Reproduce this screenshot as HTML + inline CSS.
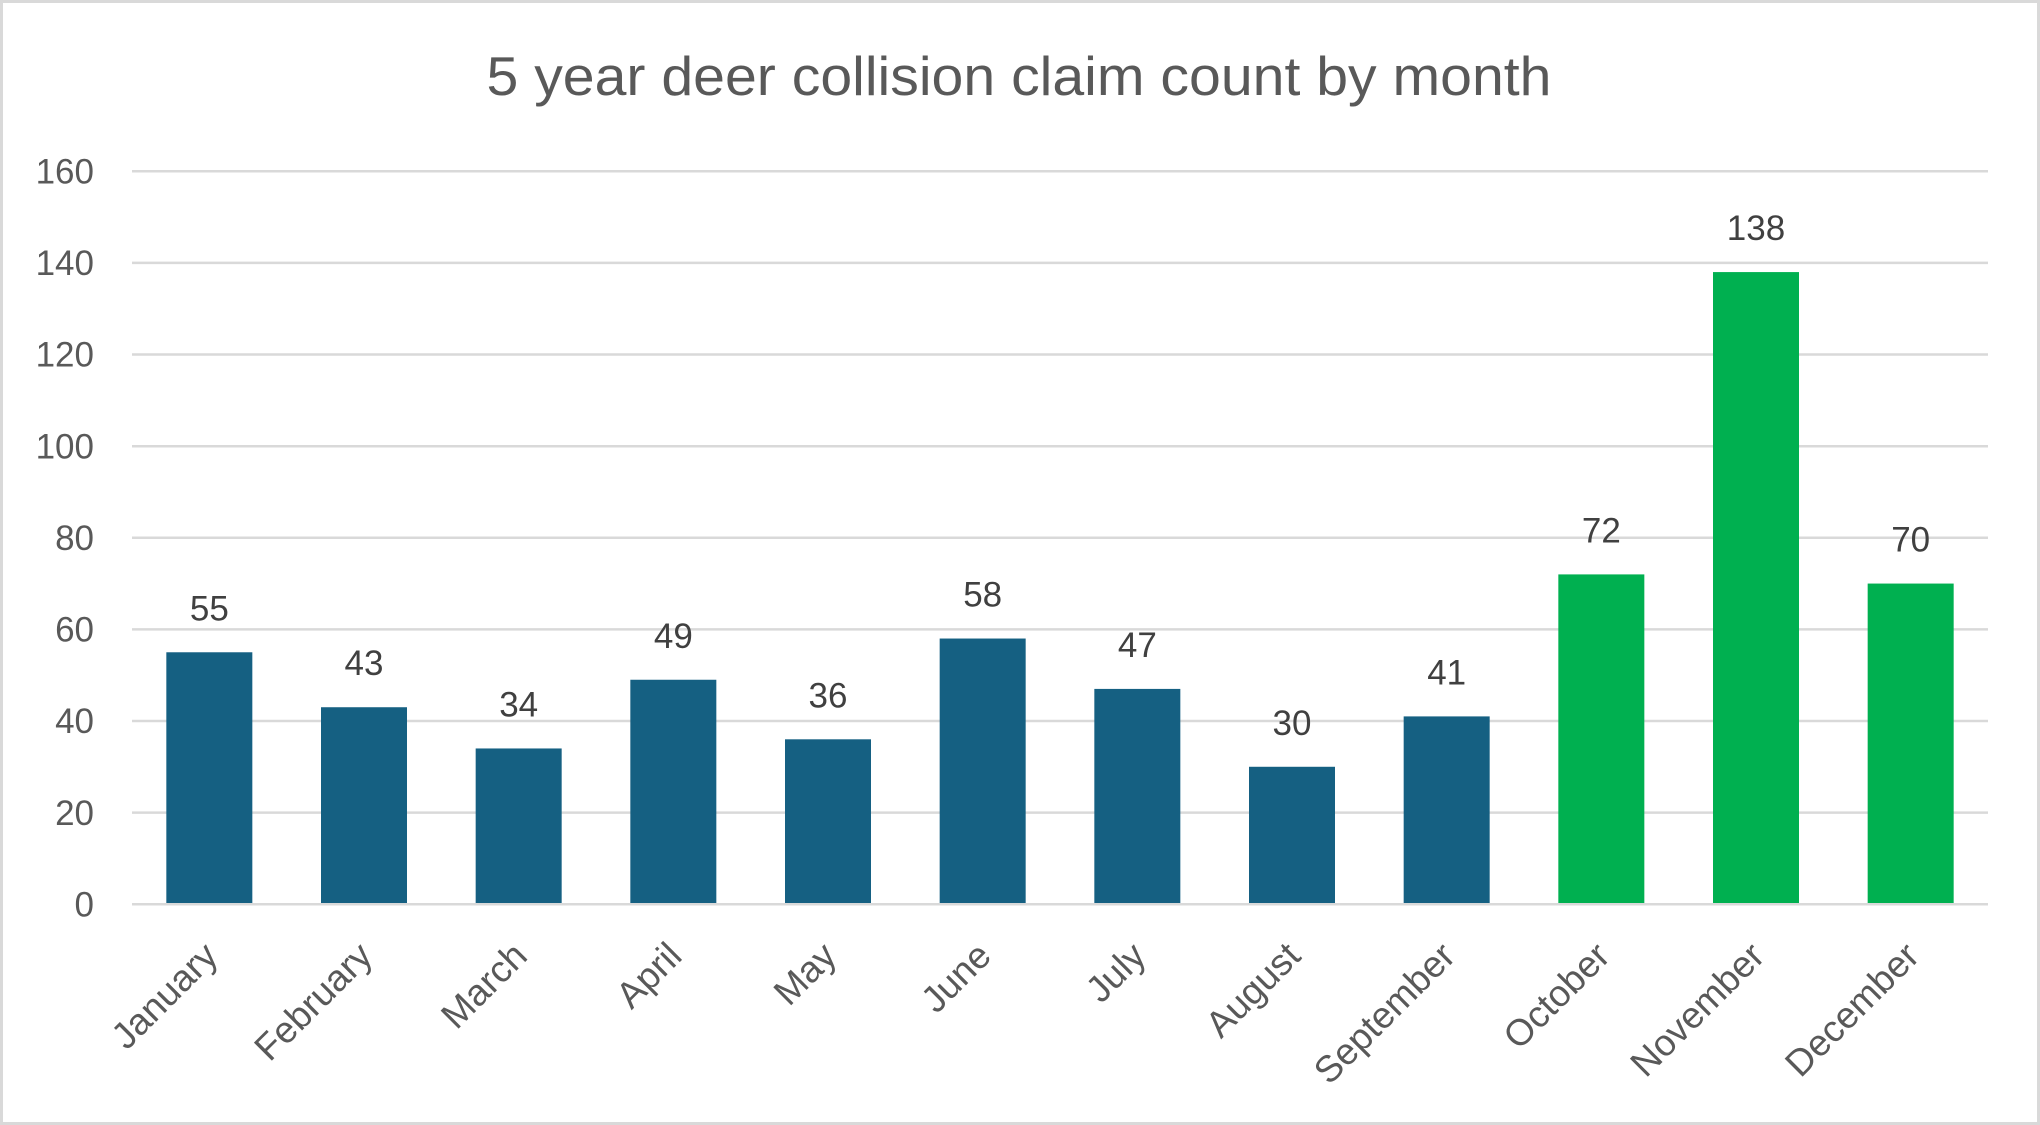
<!DOCTYPE html>
<html>
<head>
<meta charset="utf-8">
<style>
  html, body { margin: 0; padding: 0; background: #ffffff; }
  svg { display: block; }
</style>
</head>
<body>
<svg width="2040" height="1125" viewBox="0 0 2040 1125" xmlns="http://www.w3.org/2000/svg">
  <rect x="0" y="0" width="2040" height="1125" fill="#ffffff"/>
  <rect x="1.5" y="1.5" width="2037" height="1122" fill="none" stroke="#d9d9d9" stroke-width="3"/>

  <!-- Title -->
  <text x="1019" y="95" text-anchor="middle" font-family="Liberation Sans, sans-serif" font-size="55" fill="#595959" textLength="1065" lengthAdjust="spacingAndGlyphs">5 year deer collision claim count by month</text>

  <!-- Gridlines -->
  <g stroke="#d9d9d9" stroke-width="2.5">
    <line x1="132" y1="171.3" x2="1988" y2="171.3"/>
    <line x1="132" y1="262.9" x2="1988" y2="262.9"/>
    <line x1="132" y1="354.5" x2="1988" y2="354.5"/>
    <line x1="132" y1="446.2" x2="1988" y2="446.2"/>
    <line x1="132" y1="537.8" x2="1988" y2="537.8"/>
    <line x1="132" y1="629.4" x2="1988" y2="629.4"/>
    <line x1="132" y1="721.0" x2="1988" y2="721.0"/>
    <line x1="132" y1="812.6" x2="1988" y2="812.6"/>
  </g>

  <!-- Y axis labels -->
  <g font-family="Liberation Sans, sans-serif" font-size="35" fill="#595959" text-anchor="end">
    <text x="94" y="183.5">160</text>
    <text x="94" y="275.1">140</text>
    <text x="94" y="366.7">120</text>
    <text x="94" y="458.4">100</text>
    <text x="94" y="550.0">80</text>
    <text x="94" y="641.6">60</text>
    <text x="94" y="733.2">40</text>
    <text x="94" y="824.8">20</text>
    <text x="94" y="916.4">0</text>
  </g>

  <!-- Bars -->
  <g fill="#156082">
    <rect x="166.33" y="652.27" width="86" height="251.93"/>
    <rect x="321.0" y="707.23" width="86" height="196.97"/>
    <rect x="475.67" y="748.46" width="86" height="155.74"/>
    <rect x="630.33" y="679.75" width="86" height="224.45"/>
    <rect x="785.0" y="739.3" width="86" height="164.9"/>
    <rect x="939.67" y="638.53" width="86" height="265.67"/>
    <rect x="1094.33" y="688.91" width="86" height="215.29"/>
    <rect x="1249.0" y="766.78" width="86" height="137.42"/>
    <rect x="1403.67" y="716.4" width="86" height="187.8"/>
  </g>
  <g fill="#00b050">
    <rect x="1558.33" y="574.4" width="86" height="329.8"/>
    <rect x="1713.0" y="272.08" width="86" height="632.12"/>
    <rect x="1867.67" y="583.56" width="86" height="320.64"/>
  </g>

  <!-- Axis line -->
  <line x1="132" y1="904.2" x2="1988" y2="904.2" stroke="#d9d9d9" stroke-width="2.5"/>

  <!-- Data labels -->
  <g font-family="Liberation Sans, sans-serif" font-size="35" fill="#404040" text-anchor="middle">
    <text x="209.33" y="620.3">55</text>
    <text x="364.0" y="675.2">43</text>
    <text x="518.67" y="716.5">34</text>
    <text x="673.33" y="647.8">49</text>
    <text x="828.0" y="707.3">36</text>
    <text x="982.67" y="606.5">58</text>
    <text x="1137.33" y="656.9">47</text>
    <text x="1292.0" y="734.8">30</text>
    <text x="1446.67" y="684.4">41</text>
    <text x="1601.33" y="542.4">72</text>
    <text x="1756.0" y="240.1">138</text>
    <text x="1910.67" y="551.6">70</text>
  </g>

  <!-- X axis labels -->
  <g font-family="Liberation Sans, sans-serif" font-size="37" fill="#595959" text-anchor="end">
    <text transform="translate(219.8,958) rotate(-45)">January</text>
    <text transform="translate(374.5,958) rotate(-45)">February</text>
    <text transform="translate(529.2,958) rotate(-45)">March</text>
    <text transform="translate(683.8,958) rotate(-45)">April</text>
    <text transform="translate(838.5,958) rotate(-45)">May</text>
    <text transform="translate(993.2,958) rotate(-45)">June</text>
    <text transform="translate(1147.8,958) rotate(-45)">July</text>
    <text transform="translate(1302.5,958) rotate(-45)">August</text>
    <text transform="translate(1457.2,958) rotate(-45)">September</text>
    <text transform="translate(1611.8,958) rotate(-45)">October</text>
    <text transform="translate(1766.5,958) rotate(-45)">November</text>
    <text transform="translate(1921.2,958) rotate(-45)">December</text>
  </g>
</svg>
</body>
</html>
